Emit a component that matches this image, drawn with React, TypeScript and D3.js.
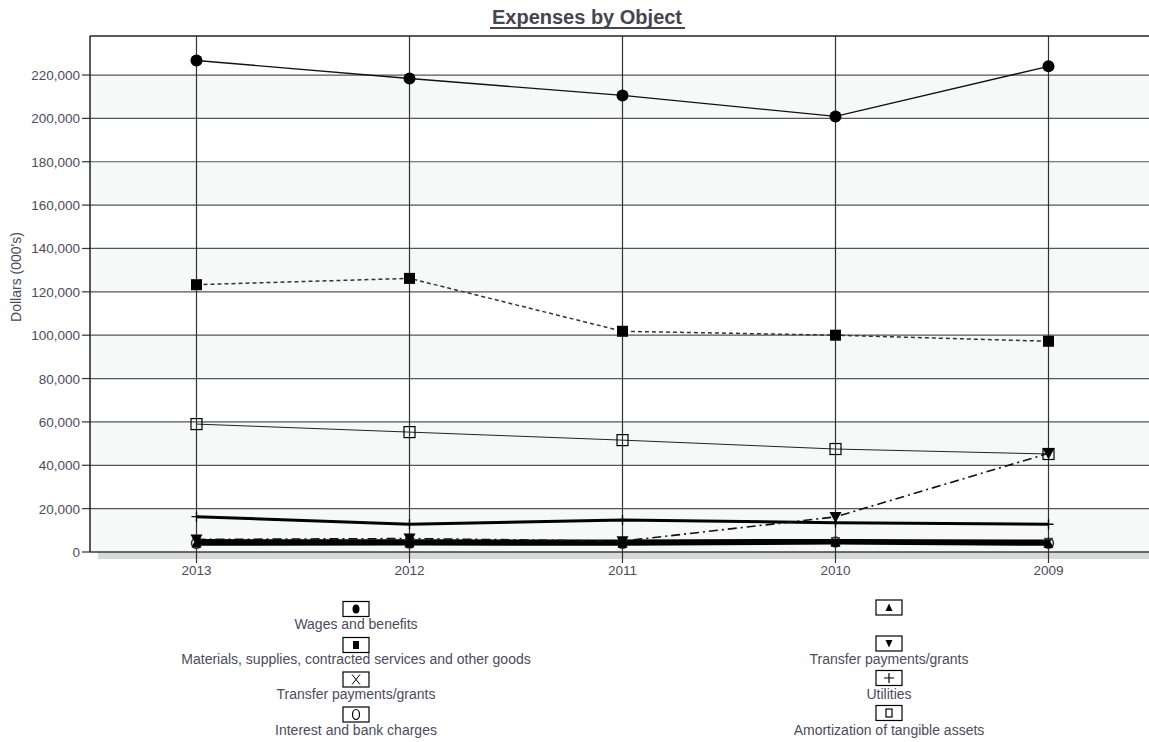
import React from "react";
import * as d3 from "d3";

const years = ["2013", "2012", "2011", "2010", "2009"];
const yTicks = [0, 20000, 40000, 60000, 80000, 100000, 120000, 140000, 160000, 180000, 200000, 220000];

const wages = [226700, 218400, 210600, 200900, 224000];
const materials = [123300, 126200, 101800, 100000, 97200];
const amortization = [59000, 55300, 51600, 47500, 45200];
const transferDown = [5800, 6200, 5000, 16200, 45500];
const utilities = [16300, 12800, 14800, 13500, 12800];
const transferX = [4800, 4700, 4600, 4900, 4600];
const interest = [4000, 4100, 4000, 4600, 4000];
const transferUp = [4400, 4400, 4300, 4700, 4300];

type Marker = "circle" | "square" | "openSquare" | "down" | "up" | "plus" | "x" | "openCircle";

interface Series {
  name: string;
  values: number[];
  marker: Marker;
  width: number;
  dash?: string;
  color: string;
}

const series: Series[] = [
  { name: "Transfer payments/grants", values: transferX, marker: "x", width: 5, color: "#000" },
  { name: "Interest and bank charges", values: interest, marker: "openCircle", width: 5, color: "#000" },
  { name: "", values: transferUp, marker: "up", width: 4, color: "#000" },
  { name: "Utilities", values: utilities, marker: "plus", width: 3, color: "#000" },
  { name: "Transfer payments/grants", values: transferDown, marker: "down", width: 1.6, dash: "9,4,2,4", color: "#111" },
  { name: "Amortization of tangible assets", values: amortization, marker: "openSquare", width: 1, color: "#222" },
  { name: "Materials, supplies, contracted services and other goods", values: materials, marker: "square", width: 1.5, dash: "4,3", color: "#333" },
  { name: "Wages and benefits", values: wages, marker: "circle", width: 1.3, color: "#111" },
];

const legendLeft: { marker: Marker; label: string }[] = [
  { marker: "circle", label: "Wages and benefits" },
  { marker: "square", label: "Materials, supplies, contracted services and other goods" },
  { marker: "x", label: "Transfer payments/grants" },
  { marker: "openCircle", label: "Interest and bank charges" },
];
const legendRight: { marker: Marker; label: string }[] = [
  { marker: "up", label: "" },
  { marker: "down", label: "Transfer payments/grants" },
  { marker: "plus", label: "Utilities" },
  { marker: "openSquare", label: "Amortization of tangible assets" },
];

const W = 1149;
const H = 742;
const plotLeft = 90;
const plotTop = 36;
const plotBottom = 552;
const plotRight = 1155;
const textColor = "#4b4b5c";
const font = "'Liberation Sans', Arial, sans-serif";

function MarkerShape({ kind, x, y }: { kind: Marker; x: number; y: number }) {
  switch (kind) {
    case "circle":
      return <circle cx={x} cy={y} r={6} fill="#000" />;
    case "square":
      return <rect x={x - 5.5} y={y - 5.5} width={11} height={11} fill="#000" />;
    case "openSquare":
      return <rect x={x - 5.5} y={y - 5.5} width={11} height={11} fill="none" stroke="#000" strokeWidth={1.2} />;
    case "down":
      return <path d={`M${x - 6},${y - 5}L${x + 6},${y - 5}L${x},${y + 6}Z`} fill="#000" />;
    case "up":
      return <path d={`M${x - 5},${y + 5}L${x + 5},${y + 5}L${x},${y - 5}Z`} fill="#000" />;
    case "plus":
      return <path d={`M${x - 5},${y}H${x + 5}M${x},${y - 5}V${y + 5}`} stroke="#000" strokeWidth={1.3} />;
    case "x":
      return (
        <path d={`M${x - 4},${y - 4}L${x + 4},${y + 4}M${x + 4},${y - 4}L${x - 4},${y + 4}`} stroke="#000" strokeWidth={1.3} />
      );
    case "openCircle":
      return <circle cx={x} cy={y} r={5} fill="none" stroke="#333" strokeWidth={1.5} />;
  }
}

function LegendSymbol({ kind, cx, cy }: { kind: Marker; cx: number; cy: number }) {
  let inner: React.ReactNode;
  switch (kind) {
    case "circle":
      inner = <ellipse cx={cx} cy={cy} rx={3.5} ry={4.5} fill="#000" />;
      break;
    case "square":
      inner = <rect x={cx - 3} y={cy - 4} width={6} height={8} fill="#000" />;
      break;
    case "openSquare":
      inner = <rect x={cx - 3} y={cy - 4} width={6} height={8} fill="none" stroke="#000" strokeWidth={1.2} />;
      break;
    case "up":
      inner = <path d={`M${cx - 3.5},${cy + 3.5}L${cx + 3.5},${cy + 3.5}L${cx},${cy - 4}Z`} fill="#000" />;
      break;
    case "down":
      inner = <path d={`M${cx - 3.5},${cy - 3.5}L${cx + 3.5},${cy - 3.5}L${cx},${cy + 4}Z`} fill="#000" />;
      break;
    case "plus":
      inner = <path d={`M${cx - 5},${cy}H${cx + 5}M${cx},${cy - 5}V${cy + 5}`} stroke="#000" strokeWidth={1.2} />;
      break;
    case "x":
      inner = (
        <path d={`M${cx - 4},${cy - 5}L${cx + 4},${cy + 5}M${cx + 4},${cy - 5}L${cx - 4},${cy + 5}`} stroke="#000" strokeWidth={1} />
      );
      break;
    case "openCircle":
      inner = <ellipse cx={cx} cy={cy} rx={3.5} ry={5} fill="none" stroke="#000" strokeWidth={1.2} />;
      break;
  }
  return (
    <g>
      <rect x={cx - 13} y={cy - 7.5} width={26} height={15} fill="#fff" stroke="#000" strokeWidth={1.2} />
      {inner}
    </g>
  );
}

export default function App() {
  const x = d3.scalePoint<string>().domain(years).range([plotLeft, plotRight]).padding(0.5);
  const y = d3.scaleLinear().domain([0, 238000]).range([plotBottom, plotTop]);
  const fmt = d3.format(",");

  const line = d3
    .line<number>()
    .x((_, i) => x(years[i]) as number)
    .y((v) => y(v));

  const bands = yTicks.filter((_, i) => i % 2 === 0);

  const boxRows = [609, 645, 679.5, 714.5];
  const labelRows = [629, 664, 699, 735];

  return (
    <svg
      width={W}
      height={H}
      style={{ position: "absolute", left: 0, top: 0, display: "block" }}
      fontFamily={font}
    >
      <rect width={W} height={H} fill="#fff" />

      {/* title */}
      <text x={587} y={24} textAnchor="middle" fontSize={20} fontWeight="bold" fill="#45454f">
        Expenses by Object
      </text>
      <line x1={490} x2={685} y1={28} y2={28} stroke="#45454f" strokeWidth={2} />

      {/* shadow under the plot */}
      <rect x={98} y={plotBottom} width={W - 98} height={7} fill="#d8d8d8" />

      {/* alternating bands */}
      {bands.map((v) => (
        <rect
          key={`b${v}`}
          x={plotLeft}
          y={y(v + 20000)}
          width={W - plotLeft}
          height={y(v) - y(v + 20000)}
          fill="#f7f9f9"
        />
      ))}

      {/* horizontal grid and y ticks */}
      {yTicks.map((v) => (
        <g key={`g${v}`}>
          <line x1={plotLeft} x2={W} y1={y(v)} y2={y(v)} stroke="#555" strokeWidth={1.2} />
          <line x1={82} x2={plotLeft} y1={y(v)} y2={y(v)} stroke="#333" strokeWidth={1.2} />
          <text x={80} y={y(v) + 5} textAnchor="end" fontSize={13.5} fill={textColor}>
            {fmt(v)}
          </text>
        </g>
      ))}

      {/* vertical grid and x ticks */}
      {years.map((yr) => (
        <g key={`v${yr}`}>
          <line x1={x(yr)} x2={x(yr)} y1={plotTop} y2={plotBottom + 11} stroke="#333" strokeWidth={1.2} />
          <text x={x(yr)} y={575} textAnchor="middle" fontSize={13.5} fill={textColor}>
            {yr}
          </text>
        </g>
      ))}

      {/* frame */}
      <line x1={plotLeft} x2={W} y1={plotTop} y2={plotTop} stroke="#222" strokeWidth={1.5} />
      <line x1={plotLeft} x2={plotLeft} y1={plotTop} y2={plotBottom} stroke="#222" strokeWidth={1.5} />
      <line x1={plotLeft} x2={W} y1={plotBottom} y2={plotBottom} stroke="#333" strokeWidth={1.2} />

      {/* y axis title */}
      <text transform={`translate(21,277) rotate(-90)`} textAnchor="middle" fontSize={14} fill={textColor}>
        Dollars (000's)
      </text>

      {/* series */}
      {series.map((s, i) => (
        <g key={`s${i}`}>
          <path d={line(s.values) ?? ""} fill="none" stroke={s.color} strokeWidth={s.width} strokeDasharray={s.dash} />
          {s.values.map((v, j) => (
            <MarkerShape key={j} kind={s.marker} x={x(years[j]) as number} y={y(v)} />
          ))}
        </g>
      ))}

      {/* legend */}
      {legendLeft.map((e, i) => (
        <g key={`ll${i}`}>
          <LegendSymbol kind={e.marker} cx={356} cy={boxRows[i]} />
          <text x={356} y={labelRows[i]} textAnchor="middle" fontSize={14} fill={textColor}>
            {e.label}
          </text>
        </g>
      ))}
      {legendRight.map((e, i) => (
        <g key={`lr${i}`}>
          <LegendSymbol kind={e.marker} cx={889} cy={boxRows[i] - (i === 0 ? 1.5 : 1.5)} />
          {e.label && (
            <text x={889} y={labelRows[i]} textAnchor="middle" fontSize={14} fill={textColor}>
              {e.label}
            </text>
          )}
        </g>
      ))}
    </svg>
  );
}
